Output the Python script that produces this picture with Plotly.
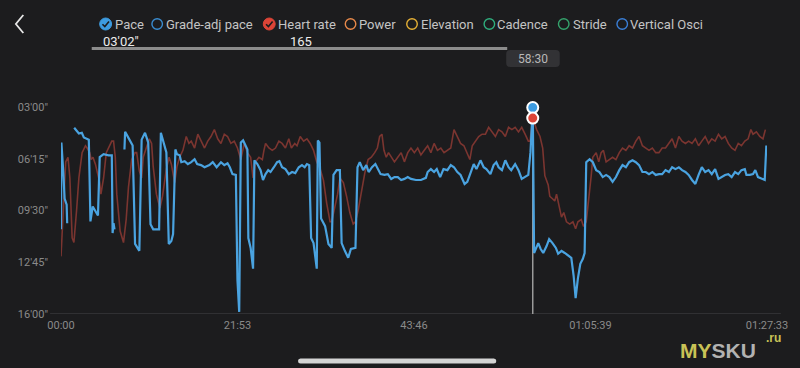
import plotly.graph_objects as go

# ---------------- data ----------------
# Pace (seconds per km) vs elapsed time (seconds); None = gap in recording
pace_t = [0, 3, 17, 27, 42, 46, None,
          98, 118, 133, 155, 170, 207, 219, 236, 258, 275, 288, 317, 354, 378, 384, 391, 398, None,
          472, 477, 509, 533, 551, 583, 600, 625, 649, 666, 686, 730, 743, 760, 784, 802, 821, 834, 851, 863,
          883, 895, 920, 944, 969, 994, 1013, 1042, 1068, 1104, 1129, 1158, 1190, 1215, 1239, 1256, 1276, 1301, 1313, 1326, 1338,
          1355, 1375, 1387, 1394, 1411, 1429, 1439, 1461, 1485, 1503, 1522, 1542, 1559, 1584, 1608, 1625, 1645, 1670, 1695, 1719,
          1743, 1769, 1793, 1813, 1830, 1847, 1861, 1879, 1903, 1911, 1923, 1935, 1965, 1990, 2014, 2027, 2051, 2075, 2088, 2112,
          2137, 2157, 2191, 2206, 2223, 2248, 2272, 2289, 2314, 2339, 2359, 2378, 2407, 2432, 2457, 2481, 2506, 2531, 2555, 2580,
          2604, 2641,
          2678, 2715, 2728, 2752, 2776, 2796, 2821, 2846, 2875, 2900, 2924, 2949, 2973, 3003, 3023, 3042, 3071, 3091, 3121, 3145,
          3165, 3195, 3219, 3239, 3256, 3281, 3306, 3330, 3350, 3379, 3404, 3428, 3453, 3477, 3493, 3510, 3520, 3534, 3551, 3569,
          3588, 3613, 3632, 3657, 3682, 3699, 3724, 3748, 3773, 3797, 3814, 3829, 3846, 3864, 3883, 3896, 3908, 3933, 3957,
          3982, 4006, 4031, 4056, 4080, 4104, 4129, 4154, 4178, 4203, 4227, 4252, 4277, 4301, 4326, 4351, 4375, 4400, 4425, 4449,
          4473, 4498, 4523, 4547, 4572, 4597, 4621, 4646, 4670, 4695, 4720, 4744, 4768, 4793, 4818, 4842, 4867, 4892, 4916, 4941,
          4965, 4990, 5015, 5039, 5063, 5088, 5100, 5125, 5149, 5166, 5186, 5211, 5236, 5248]
pace_v = [641, 314, 425, 525, 548, 618, None,
          258, 269, 280, 277, 295, 303, 611, 555, 574, 589, 369, 358, 362, 362, 655, 618, 641, None,
          340, 273, 303, 325, 696, 722, 303, 277, 314, 622, 641, 641, 277, 306, 351, 696, 685, 659, 340, 358,
          362, 388, 384, 395, 388, 377, 395, 399, 407, 399, 388, 407, 388, 399, 392, 407, 433, 436, 834, 952, 314,
          306, 325, 340, 674, 711, 789, 381, 395, 418, 455, 433, 418, 425, 407, 388, 384, 407, 414, 433, 425,
          429, 407, 399, 407, 395, 399, 674, 693, 789, 306, 314, 600, 629, 696, 711, 436, 418, 418, 693, 722,
          748, 715, 711, 407, 388, 418, 399, 425, 407, 395, 414, 433, 436, 433, 451, 444, 444, 455, 451, 444,
          451, 455,
          455, 447, 425, 414, 425, 414, 444, 414, 418, 399, 407, 425, 436, 470, 462, 436, 395, 414, 381, 407,
          414, 433, 399, 388, 407, 418, 381, 407, 418, 395, 418, 451, 444, 436, 351, 182, 730, 715, 693, 715,
          730, 704, 678, 693, 711, 733, 722, 730, 741, 748, 815, 900, 826, 771, 752, 730, 388, 377, 388,
          418, 425, 444, 436, 444, 462, 444, 418, 399, 407, 388, 381, 388, 399, 425, 425, 433, 425, 436, 433,
          433, 418, 425, 407, 414, 407, 418, 425, 436, 455, 470, 436, 407, 425, 418, 433, 414, 451, 444, 436,
          433, 444, 425, 433, 418, 414, 436, 436, 433, 418, 444, 451, 455, 325]

# Heart rate (bpm) vs elapsed time (seconds)
hr_t = [0, 15, 35, 52, 66, 83, 96, 116, 133, 157,
        182, 194, 214, 224, 238, 256, 268, 288, 297, 317,
        337, 354, 378, 391, 404, 415, 440, 465, 485, 502,
        526, 551, 563, 583, 600, 612, 637, 657, 674, 686,
        710, 736, 755, 767, 784, 804, 821, 846, 863, 883,
        907, 932, 952, 969, 994, 1018, 1042, 1068, 1092, 1116,
        1141, 1166, 1190, 1215, 1239, 1264, 1289, 1313, 1338, 1363,
        1387, 1411, 1429, 1448, 1473, 1498, 1510, 1522, 1547, 1572,
        1596, 1621, 1645, 1670, 1695, 1714, 1739, 1756, 1780, 1805,
        1830, 1854, 1879, 1903, 1928, 1953, 1977, 2002, 2014, 2034,
        2058, 2075, 2101, 2125, 2149, 2174, 2191, 2211, 2236, 2260,
        2285, 2309, 2334, 2354, 2371, 2388, 2403, 2420, 2437, 2457,
        2481, 2506, 2531, 2555, 2580, 2604, 2629, 2654, 2678, 2703,
        2728, 2752, 2776, 2801, 2826, 2850, 2875, 2900, 2924, 2949,
        2973, 2998, 3018, 3042, 3060, 3084, 3108, 3133, 3158, 3182,
        3207, 3232, 3256, 3281, 3306, 3330, 3355, 3379, 3404, 3428,
        3453, 3477, 3490, 3510, 3539, 3564, 3584, 3600, 3625, 3637,
        3657, 3674, 3687, 3706, 3724, 3741, 3761, 3785, 3809, 3829,
        3846, 3871, 3888, 3908, 3933, 3945, 3957, 3982, 4001, 4019,
        4036, 4056, 4080, 4104, 4129, 4154, 4178, 4203, 4227, 4252,
        4277, 4301, 4326, 4351, 4375, 4400, 4425, 4449, 4473, 4498,
        4523, 4547, 4572, 4597, 4621, 4646, 4670, 4695, 4720, 4744,
        4768, 4793, 4818, 4842, 4867, 4892, 4916, 4941, 4965, 4990,
        5015, 5039, 5063, 5088, 5113, 5133, 5149, 5174, 5199, 5223,
        5241]
hr_v = [105, 125, 146, 148, 139, 113, 111, 125, 139, 150,
        153, 152, 150, 147, 148, 145, 142, 137, 132, 139,
        150, 152, 155, 155, 148, 132, 116, 111, 121, 135,
        147, 150, 150, 142, 139, 148, 152, 156, 154, 144,
        132, 126, 131, 137, 143, 148, 145, 137, 144, 148,
        151, 157, 154, 155, 152, 158, 155, 152, 155, 157,
        160, 156, 154, 158, 157, 154, 155, 152, 147, 154,
        150, 148, 139, 146, 148, 147, 151, 154, 152, 151,
        152, 155, 154, 152, 156, 152, 154, 153, 157, 155,
        156, 154, 151, 146, 143, 138, 128, 120, 120, 126,
        132, 139, 137, 131, 124, 119, 120, 125, 134, 141,
        147, 148, 150, 152, 157, 158, 151, 148, 150, 148,
        146, 148, 150, 146, 150, 152, 150, 152, 149, 151,
        153, 150, 154, 151, 152, 150, 151, 152, 160, 157,
        154, 153, 150, 147, 153, 155, 157, 158, 158, 161,
        159, 157, 160, 159, 157, 161, 160, 161, 159, 161,
        158, 155, 155, 165, 160, 157, 152, 140, 136, 131,
        130, 129, 132, 126, 122, 124, 120, 119, 120, 117,
        120, 121, 118, 120, 132, 140, 148, 150, 146, 150,
        151, 146, 147, 148, 147, 150, 152, 151, 153, 152,
        155, 157, 153, 152, 151, 152, 150, 150, 152, 152,
        154, 156, 152, 157, 155, 154, 155, 154, 156, 153,
        155, 157, 154, 156, 155, 158, 156, 157, 154, 152,
        151, 154, 153, 155, 156, 160, 158, 159, 157, 156,
        160]

pace_ticks = [180, 375, 570, 765, 960]
pace_labels = ["03'00\"", "06'15\"", "09'30\"", "12'45\"", "16'00\""]
time_ticks = [0, 1313, 2626, 3939, 5253]
time_labels = ["00:00", "21:53", "43:46", "01:05:39", "01:27:33"]

legend_names = ["Pace", "Grade-adj pace", "Heart rate", "Power", "Elevation", "Cadence", "Stride", "Vertical Osci"]
legend_colors = ["#3d9be0", "#3a8cd0", "#dc4437", "#e8894a", "#e6b035", "#2fae7e", "#34a36c", "#3a7fd8"]
legend_checked = [True, False, True, False, False, False, False, False]

cursor_time = 3510
cursor_label = "58:30"
cursor_pace = 182
cursor_pace_label = "03'02\""
cursor_hr = 165

# ---------------- layout helpers ----------------
W, H = 800, 368
PX0, PX1, PY0, PY1 = 61, 773, 107, 314
def fx(x):
    return (x - PX0) / (PX1 - PX0)
def fy(y):
    return (PY1 - y) / (PY1 - PY0)

BG = "#1c1c1e"
FONT = "Roboto"

fig = go.Figure()
fig.add_trace(go.Scatter(x=hr_t, y=hr_v, yaxis="y", mode="lines",
                         line=dict(color="#7b3530", width=1.6), hoverinfo="skip", showlegend=False))
fig.add_trace(go.Scatter(x=pace_t, y=pace_v, yaxis="y2", mode="lines", connectgaps=False,
                         line=dict(color="#4aa3e0", width=2.2), hoverinfo="skip", showlegend=False))
fig.add_trace(go.Scatter(x=[cursor_time], y=[cursor_pace], yaxis="y2", mode="markers", cliponaxis=False,
                         marker=dict(size=11, color="#3d9be0", line=dict(color="white", width=2)),
                         hoverinfo="skip", showlegend=False))
fig.add_trace(go.Scatter(x=[cursor_time], y=[cursor_hr], yaxis="y3", mode="markers", cliponaxis=False,
                         marker=dict(size=11, color="#dc4437", line=dict(color="white", width=2)),
                         hoverinfo="skip", showlegend=False))

shapes = []
annotations = []

# bottom baseline
shapes.append(dict(type="line", xref="paper", yref="paper", x0=fx(50), x1=fx(787), y0=fy(313.5), y1=fy(313.5),
                   line=dict(color="#303033", width=1), layer="below"))
# cursor line
shapes.append(dict(type="line", xref="x", yref="paper", x0=cursor_time, x1=cursor_time, y0=fy(314), y1=fy(112),
                   line=dict(color="#9a9a9a", width=1.5), layer="below"))

# back arrow
shapes.append(dict(type="path", xref="paper", yref="paper",
                   path=f"M {fx(23)} {fy(15)} L {fx(15.5)} {fy(24)} L {fx(23)} {fy(33)}",
                   line=dict(color="#e6e6e6", width=1.8)))

# legend row
icon_x = [106, 158, 271, 353, 415, 493, 568, 627]
text_x = [113, 165, 278, 360, 422, 499, 575, 633]
ly = 24
r = 6
for name, col, chk, ix, tx in zip(legend_names, legend_colors, legend_checked, icon_x, text_x):
    if chk:
        shapes.append(dict(type="circle", xref="paper", yref="paper",
                           x0=fx(ix - r), x1=fx(ix + r), y0=fy(ly + r), y1=fy(ly - r),
                           fillcolor=col, line=dict(color=col, width=1)))
        shapes.append(dict(type="path", xref="paper", yref="paper",
                           path=f"M {fx(ix-3.2)} {fy(ly+0.2)} L {fx(ix-0.8)} {fy(ly+2.6)} L {fx(ix+3.4)} {fy(ly-2.4)}",
                           line=dict(color="#1c1c1e", width=1.6)))
    else:
        shapes.append(dict(type="circle", xref="paper", yref="paper",
                           x0=fx(ix - r + 0.7), x1=fx(ix + r - 0.7), y0=fy(ly + r - 0.7), y1=fy(ly - r + 0.7),
                           line=dict(color=col, width=1.4)))
    annotations.append(dict(xref="paper", yref="paper", x=fx(tx), y=fy(ly), text=name, showarrow=False,
                            xanchor="left", yanchor="middle", font=dict(family=FONT, size=13, color="#c4c4c4")))

# values under legend
annotations.append(dict(xref="paper", yref="paper", x=fx(122), y=fy(42), text=cursor_pace_label, showarrow=False,
                        xanchor="center", yanchor="middle", font=dict(family=FONT, size=13, color="#ececec")))
annotations.append(dict(xref="paper", yref="paper", x=fx(303), y=fy(42), text=str(cursor_hr), showarrow=False,
                        xanchor="center", yanchor="middle", font=dict(family=FONT, size=13, color="#ececec")))
# scrub bar
shapes.append(dict(type="line", xref="paper", yref="paper", x0=fx(92), x1=fx(511), y0=fy(48.5), y1=fy(48.5),
                   line=dict(color="#8c8c8c", width=3)))

# time tooltip box (rounded)
def rrect(x0, y0, x1, y1, rr):
    return (f"M {fx(x0+rr)} {fy(y0)} L {fx(x1-rr)} {fy(y0)} Q {fx(x1)} {fy(y0)} {fx(x1)} {fy(y0+rr)} "
            f"L {fx(x1)} {fy(y1-rr)} Q {fx(x1)} {fy(y1)} {fx(x1-rr)} {fy(y1)} "
            f"L {fx(x0+rr)} {fy(y1)} Q {fx(x0)} {fy(y1)} {fx(x0)} {fy(y1-rr)} "
            f"L {fx(x0)} {fy(y0+rr)} Q {fx(x0)} {fy(y0)} {fx(x0+rr)} {fy(y0)} Z")
shapes.append(dict(type="path", xref="paper", yref="paper", path=rrect(510, 50, 564, 67, 4),
                   fillcolor="#323235", line=dict(width=0)))
annotations.append(dict(xref="paper", yref="paper", x=fx(537), y=fy(58.5), text=cursor_label, showarrow=False,
                        xanchor="center", yanchor="middle", font=dict(family=FONT, size=12, color="#b8b8b8")))

# home indicator
shapes.append(dict(type="path", xref="paper", yref="paper", path=rrect(300, 358.5, 500, 363.5, 2.5),
                   fillcolor="#d4d4d4", line=dict(width=0)))

# watermark
annotations.append(dict(xref="paper", yref="paper", x=fx(724), y=fy(350), showarrow=False,
                        xanchor="center", yanchor="middle",
                        text="<b><span style='color:#c9c256'>MY</span><span style='color:#b2b2b2'>SKU</span></b>",
                        font=dict(family="Liberation Sans", size=21, color="#b2b2b2")))
annotations.append(dict(xref="paper", yref="paper", x=fx(780), y=fy(337.5), showarrow=False,
                        xanchor="center", yanchor="middle", text="<b>.ru</b>",
                        font=dict(family="Liberation Sans", size=12, color="#c9c256")))

tickfont = dict(family=FONT, size=11, color="#8a8a8a")
fig.update_layout(
    width=W, height=H, autosize=False,
    margin=dict(l=PX0, r=W - PX1, t=PY0, b=H - PY1, pad=0),
    paper_bgcolor=BG, plot_bgcolor=BG,
    showlegend=False, hovermode=False,
    xaxis=dict(range=[0, 5253], tickmode="array", tickvals=time_ticks, ticktext=time_labels,
               showgrid=False, zeroline=False, showline=False, ticks="", tickfont=tickfont,
               ticklabelstandoff=3, fixedrange=True),
    yaxis=dict(range=[80, 169.8], visible=False, fixedrange=True),
    yaxis2=dict(overlaying="y", side="left", range=[960, 180], tickmode="array", tickvals=pace_ticks,
                ticktext=pace_labels, showgrid=False, zeroline=False, showline=False, ticks="",
                tickfont=tickfont, ticklabelstandoff=12, fixedrange=True),
    yaxis3=dict(overlaying="y", range=[80, 169.8], visible=False, fixedrange=True),
    shapes=shapes, annotations=annotations,
)

fig.write_html("out.html", config={"displayModeBar": False, "staticPlot": True},
               post_script="document.body.style.margin='0';document.body.style.padding='0';"
                           "document.body.style.background='#1c1c1e';document.body.style.overflow='hidden';")
